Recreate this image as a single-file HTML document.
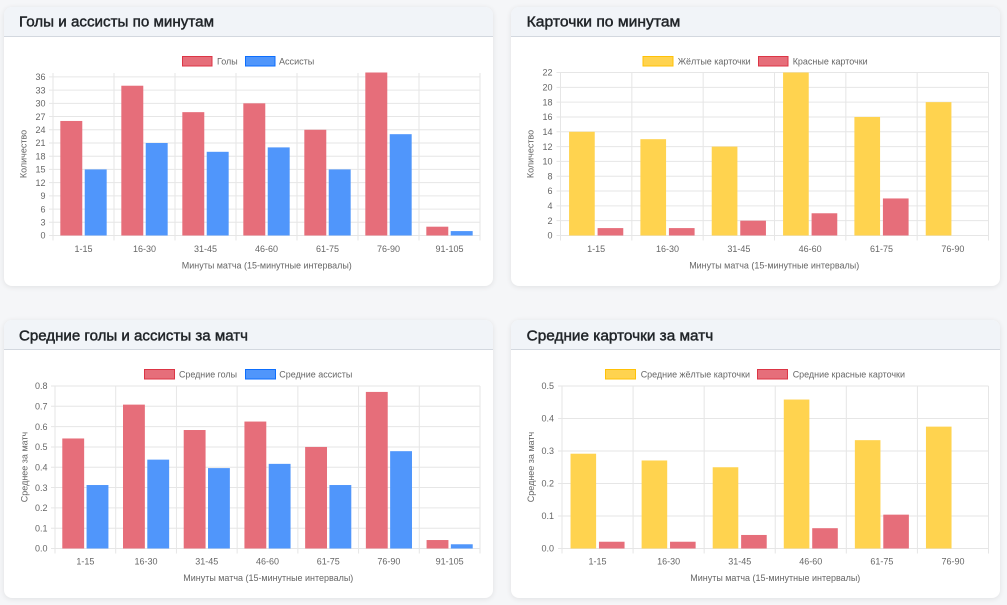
<!DOCTYPE html>
<html><head><meta charset="utf-8"><style>
html,body{margin:0;padding:0;}
body{width:1007px;height:605px;background:#f5f6f8;position:relative;overflow:hidden;font-family:"Liberation Sans",Arial,sans-serif;}
.card{position:absolute;background:#fff;border-radius:8px;box-shadow:0 1px 6px rgba(0,0,0,0.09);overflow:hidden;}
.hd{height:29px;background:#f1f4f8;border-bottom:1px solid #d3d8df;}
svg{position:absolute;left:0;top:0;}
</style></head><body>
<div class="card" style="left:4px;top:7px;width:489px;height:279px"><div class="hd"></div></div>
<div class="card" style="left:511px;top:7px;width:489px;height:279px"><div class="hd"></div></div>
<div class="card" style="left:4px;top:320px;width:489px;height:278px"><div class="hd"></div></div>
<div class="card" style="left:511px;top:320px;width:489px;height:278px"><div class="hd"></div></div>
<svg width="1007" height="605" viewBox="0 0 1007 605" xmlns="http://www.w3.org/2000/svg" font-family="Liberation Sans, Arial, sans-serif">
<g font-size="15" font-weight="normal" fill="#212529" stroke="#212529" stroke-width="0.45">
<text x="19" y="26.5" textLength="195" lengthAdjust="spacingAndGlyphs">Голы и ассисты по минутам</text>
<text x="526.7" y="26.5" textLength="153.6" lengthAdjust="spacingAndGlyphs">Карточки по минутам</text>
<text x="19" y="340.5" textLength="229" lengthAdjust="spacingAndGlyphs">Средние голы и ассисты за матч</text>
<text x="526.7" y="340.5" textLength="186.6" lengthAdjust="spacingAndGlyphs">Средние карточки за матч</text>
</g>
<g stroke="#e6e6e6" stroke-width="1" fill="none">
<path d="M49 235.5H480M49 222.28H480M49 209.07H480M49 195.85H480M49 182.64H480M49 169.42H480M49 156.2H480M49 142.99H480M49 129.77H480M49 116.55H480M49 103.34H480M49 90.12H480M49 76.91H480"/>
<path d="M53 73V240.5M114 73V240.5M175 73V240.5M236 73V240.5M297 73V240.5M358 73V240.5M419 73V240.5M480 73V240.5"/>
<path d="M556.5 235.5H988.5M556.5 220.68H988.5M556.5 205.86H988.5M556.5 191.05H988.5M556.5 176.23H988.5M556.5 161.41H988.5M556.5 146.59H988.5M556.5 131.77H988.5M556.5 116.95H988.5M556.5 102.14H988.5M556.5 87.32H988.5M556.5 72.5H988.5"/>
<path d="M560.5 72.5V240.5M631.83 72.5V240.5M703.17 72.5V240.5M774.5 72.5V240.5M845.83 72.5V240.5M917.17 72.5V240.5M988.5 72.5V240.5"/>
<path d="M51 548.5H480M51 528.19H480M51 507.88H480M51 487.56H480M51 467.25H480M51 446.94H480M51 426.63H480M51 406.31H480M51 386H480"/>
<path d="M55 386V553.5M115.71 386V553.5M176.43 386V553.5M237.14 386V553.5M297.86 386V553.5M358.57 386V553.5M419.29 386V553.5M480 386V553.5"/>
<path d="M558 548.5H988.5M558 516H988.5M558 483.5H988.5M558 451H988.5M558 418.5H988.5M558 386H988.5"/>
<path d="M562 386V553.5M633.08 386V553.5M704.17 386V553.5M775.25 386V553.5M846.33 386V553.5M917.42 386V553.5M988.5 386V553.5"/>
</g>
<!-- Chart 1 bars -->
<g fill="#e66e7a">
<rect x="60.32" y="120.96" width="21.96" height="114.54"/>
<rect x="121.32" y="85.72" width="21.96" height="149.78"/>
<rect x="182.32" y="112.15" width="21.96" height="123.35"/>
<rect x="243.32" y="103.34" width="21.96" height="132.16"/>
<rect x="304.32" y="129.77" width="21.96" height="105.73"/>
<rect x="365.32" y="72.5" width="21.96" height="163"/>
<rect x="426.32" y="226.69" width="21.96" height="8.81"/>
</g>
<g fill="#5096fb">
<rect x="84.72" y="169.42" width="21.96" height="66.08"/>
<rect x="145.72" y="142.99" width="21.96" height="92.51"/>
<rect x="206.72" y="151.8" width="21.96" height="83.7"/>
<rect x="267.72" y="147.39" width="21.96" height="88.11"/>
<rect x="328.72" y="169.42" width="21.96" height="66.08"/>
<rect x="389.72" y="134.18" width="21.96" height="101.32"/>
<rect x="450.72" y="231.09" width="21.96" height="4.41"/>
</g>
<!-- Chart 2 bars -->
<g fill="#ffd34f">
<rect x="569.06" y="131.77" width="25.68" height="103.73"/>
<rect x="640.39" y="139.18" width="25.68" height="96.32"/>
<rect x="711.73" y="146.59" width="25.68" height="88.91"/>
<rect x="783.06" y="72.5" width="25.68" height="163"/>
<rect x="854.39" y="116.95" width="25.68" height="118.55"/>
<rect x="925.73" y="102.14" width="25.68" height="133.36"/>
</g>
<g fill="#e66e7a">
<rect x="597.59" y="228.09" width="25.68" height="7.41"/>
<rect x="668.92" y="228.09" width="25.68" height="7.41"/>
<rect x="740.26" y="220.68" width="25.68" height="14.82"/>
<rect x="811.59" y="213.27" width="25.68" height="22.23"/>
<rect x="882.92" y="198.45" width="25.68" height="37.05"/>
</g>
<!-- Chart 3 bars -->
<g fill="#e66e7a">
<rect x="62.29" y="438.47" width="21.86" height="110.03"/>
<rect x="123" y="404.62" width="21.86" height="143.88"/>
<rect x="183.71" y="430.01" width="21.86" height="118.49"/>
<rect x="244.43" y="421.55" width="21.86" height="126.95"/>
<rect x="305.14" y="446.94" width="21.86" height="101.56"/>
<rect x="365.86" y="391.92" width="21.86" height="156.58"/>
<rect x="426.57" y="540.04" width="21.86" height="8.46"/>
</g>
<g fill="#5096fb">
<rect x="86.57" y="485.02" width="21.86" height="63.48"/>
<rect x="147.29" y="459.63" width="21.86" height="88.87"/>
<rect x="208" y="468.1" width="21.86" height="80.4"/>
<rect x="268.71" y="463.86" width="21.86" height="84.64"/>
<rect x="329.43" y="485.02" width="21.86" height="63.48"/>
<rect x="390.14" y="451.17" width="21.86" height="97.33"/>
<rect x="450.86" y="544.27" width="21.86" height="4.23"/>
</g>
<!-- Chart 4 bars -->
<g fill="#ffd34f">
<rect x="570.53" y="453.71" width="25.59" height="94.79"/>
<rect x="641.61" y="460.48" width="25.59" height="88.02"/>
<rect x="712.7" y="467.25" width="25.59" height="81.25"/>
<rect x="783.78" y="399.54" width="25.59" height="148.96"/>
<rect x="854.86" y="440.17" width="25.59" height="108.33"/>
<rect x="925.95" y="426.63" width="25.59" height="121.87"/>
</g>
<g fill="#e66e7a">
<rect x="598.96" y="541.73" width="25.59" height="6.77"/>
<rect x="670.04" y="541.73" width="25.59" height="6.77"/>
<rect x="741.13" y="534.96" width="25.59" height="13.54"/>
<rect x="812.21" y="528.19" width="25.59" height="20.31"/>
<rect x="883.29" y="514.65" width="25.59" height="33.85"/>
</g>
<!-- Y tick labels -->
<g font-size="9" fill="#666" text-anchor="end">
<text x="45.5" y="238.7">0</text><text x="45.5" y="225.5">3</text><text x="45.5" y="212.3">6</text><text x="45.5" y="199.1">9</text><text x="45.5" y="185.8">12</text><text x="45.5" y="172.6">15</text><text x="45.5" y="159.4">18</text><text x="45.5" y="146.2">21</text><text x="45.5" y="133">24</text><text x="45.5" y="119.8">27</text><text x="45.5" y="106.5">30</text><text x="45.5" y="93.3">33</text><text x="45.5" y="80.1">36</text>
<text x="552.5" y="238.7">0</text><text x="552.5" y="223.9">2</text><text x="552.5" y="209.1">4</text><text x="552.5" y="194.2">6</text><text x="552.5" y="179.4">8</text><text x="552.5" y="164.6">10</text><text x="552.5" y="149.8">12</text><text x="552.5" y="135">14</text><text x="552.5" y="120.2">16</text><text x="552.5" y="105.3">18</text><text x="552.5" y="90.5">20</text><text x="552.5" y="75.7">22</text>
<text x="47.5" y="551.7">0.0</text><text x="47.5" y="531.4">0.1</text><text x="47.5" y="511.1">0.2</text><text x="47.5" y="490.8">0.3</text><text x="47.5" y="470.5">0.4</text><text x="47.5" y="450.1">0.5</text><text x="47.5" y="429.8">0.6</text><text x="47.5" y="409.5">0.7</text><text x="47.5" y="389.2">0.8</text>
<text x="554" y="551.7">0.0</text><text x="554" y="519.2">0.1</text><text x="554" y="486.7">0.2</text><text x="554" y="454.2">0.3</text><text x="554" y="421.7">0.4</text><text x="554" y="389.2">0.5</text>
</g>
<!-- X tick labels -->
<g font-size="9" fill="#666" text-anchor="middle">
<text x="83.5" y="252">1-15</text><text x="144.5" y="252">16-30</text><text x="205.5" y="252">31-45</text><text x="266.5" y="252">46-60</text><text x="327.5" y="252">61-75</text><text x="388.5" y="252">76-90</text><text x="449.5" y="252">91-105</text>
<text x="596.17" y="252">1-15</text><text x="667.5" y="252">16-30</text><text x="738.83" y="252">31-45</text><text x="810.17" y="252">46-60</text><text x="881.5" y="252">61-75</text><text x="952.83" y="252">76-90</text>
<text x="85.36" y="564.5">1-15</text><text x="146.07" y="564.5">16-30</text><text x="206.79" y="564.5">31-45</text><text x="267.5" y="564.5">46-60</text><text x="328.21" y="564.5">61-75</text><text x="388.93" y="564.5">76-90</text><text x="449.64" y="564.5">91-105</text>
<text x="597.54" y="564.5">1-15</text><text x="668.62" y="564.5">16-30</text><text x="739.71" y="564.5">31-45</text><text x="810.79" y="564.5">46-60</text><text x="881.87" y="564.5">61-75</text><text x="952.96" y="564.5">76-90</text>
<text x="266.8" y="268.3" textLength="170" lengthAdjust="spacingAndGlyphs">Минуты матча (15-минутные интервалы)</text>
<text x="774.2" y="268.3" textLength="170" lengthAdjust="spacingAndGlyphs">Минуты матча (15-минутные интервалы)</text>
<text x="268.3" y="581" textLength="170" lengthAdjust="spacingAndGlyphs">Минуты матча (15-минутные интервалы)</text>
<text x="775.3" y="581" textLength="170" lengthAdjust="spacingAndGlyphs">Минуты матча (15-минутные интервалы)</text>
<text transform="translate(26.3 154) rotate(-90)">Количество</text>
<text transform="translate(533.3 154) rotate(-90)">Количество</text>
<text transform="translate(27.3 467) rotate(-90)">Среднее за матч</text>
<text transform="translate(534 467) rotate(-90)">Среднее за матч</text>
</g>
<!-- Legends -->
<g>
<rect x="182.5" y="56.5" width="29.5" height="9.5" fill="#e66e7a" stroke="#dc3545" stroke-width="1"/>
<rect x="245.5" y="56.5" width="29.5" height="9.5" fill="#5096fb" stroke="#0d6efd" stroke-width="1"/>
<rect x="643" y="56.5" width="30" height="9.5" fill="#ffd34f" stroke="#ffc107" stroke-width="1"/>
<rect x="758.5" y="56.5" width="29.5" height="9.5" fill="#e66e7a" stroke="#dc3545" stroke-width="1"/>
<rect x="144.5" y="369.5" width="30" height="9.5" fill="#e66e7a" stroke="#dc3545" stroke-width="1"/>
<rect x="245.5" y="369.5" width="30" height="9.5" fill="#5096fb" stroke="#0d6efd" stroke-width="1"/>
<rect x="605.5" y="369.5" width="30" height="9.5" fill="#ffd34f" stroke="#ffc107" stroke-width="1"/>
<rect x="757.5" y="369.5" width="30" height="9.5" fill="#e66e7a" stroke="#dc3545" stroke-width="1"/>
</g>
<g font-size="9" fill="#666">
<text x="217" y="64.3" textLength="20.7" lengthAdjust="spacingAndGlyphs">Голы</text>
<text x="279" y="64.3" textLength="35.3" lengthAdjust="spacingAndGlyphs">Ассисты</text>
<text x="677.7" y="64.3" textLength="73" lengthAdjust="spacingAndGlyphs">Жёлтые карточки</text>
<text x="792.7" y="64.3" textLength="75" lengthAdjust="spacingAndGlyphs">Красные карточки</text>
<text x="179" y="377.3" textLength="58" lengthAdjust="spacingAndGlyphs">Средние голы</text>
<text x="279.3" y="377.3" textLength="73" lengthAdjust="spacingAndGlyphs">Средние ассисты</text>
<text x="640.7" y="377.3" textLength="109.3" lengthAdjust="spacingAndGlyphs">Средние жёлтые карточки</text>
<text x="792.7" y="377.3" textLength="112.3" lengthAdjust="spacingAndGlyphs">Средние красные карточки</text>
</g>
</svg>
</body></html>
